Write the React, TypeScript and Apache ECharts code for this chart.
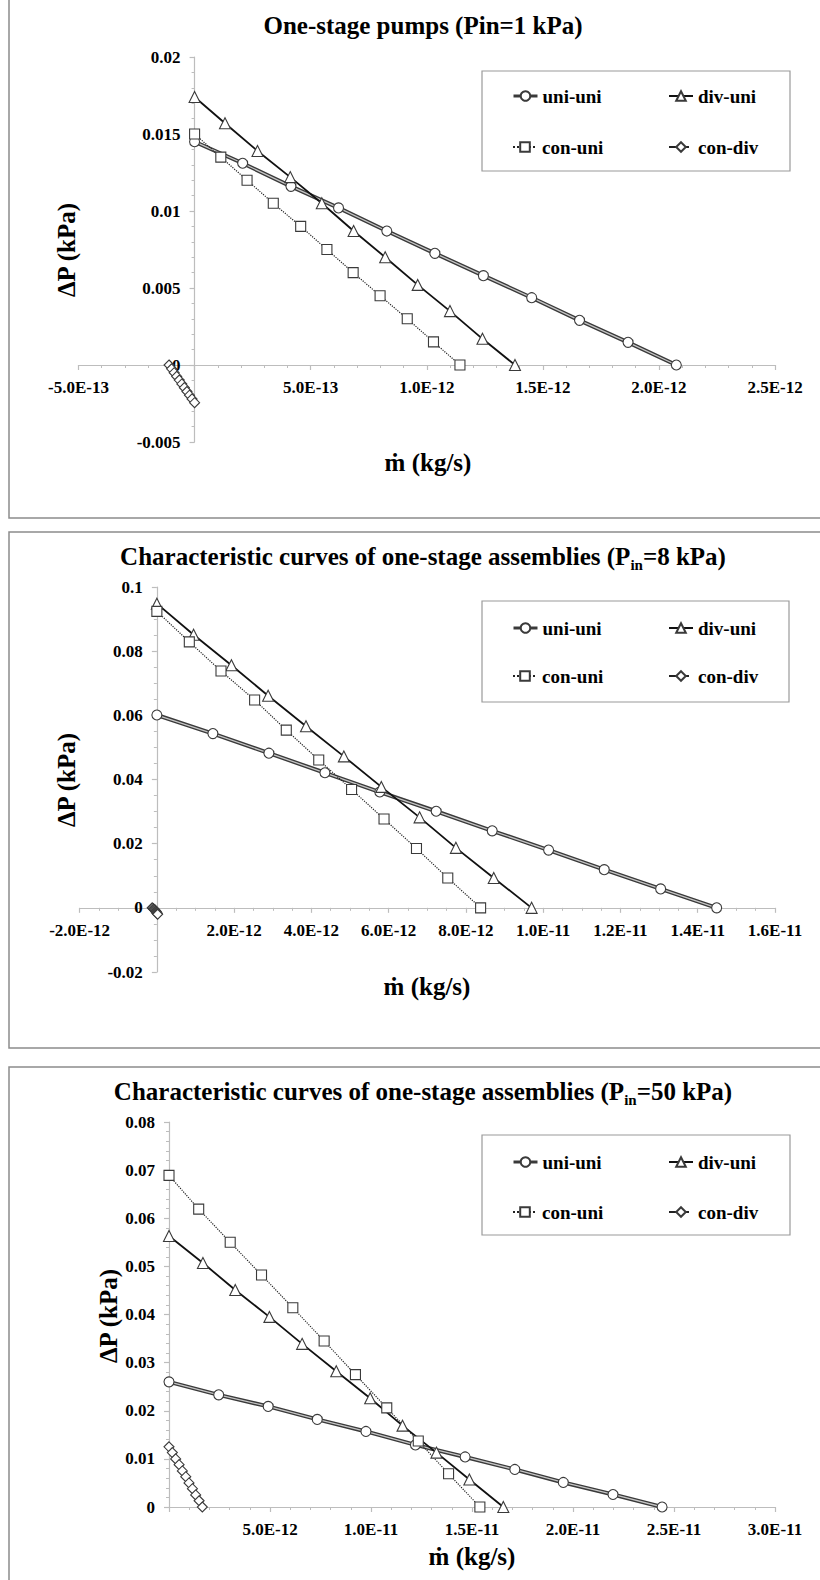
import React, { useEffect, useRef } from 'react';
import * as echarts from 'echarts';

// ---------- Panel 1 : One-stage pumps (Pin = 1 kPa) ----------
const p1UniUniX = [0, 2.07e-13, 4.15e-13, 6.2e-13, 8.28e-13, 1.035e-12, 1.244e-12, 1.452e-12, 1.658e-12, 1.867e-12, 2.075e-12];
const p1UniUniY = [0.0145, 0.0131, 0.0116, 0.0102, 0.0087, 0.00725, 0.0058, 0.00437, 0.0029, 0.00147, 0];
const p1DivUniX = [0, 1.31e-13, 2.71e-13, 4.12e-13, 5.48e-13, 6.85e-13, 8.21e-13, 9.61e-13, 1.1e-12, 1.24e-12, 1.38e-12];
const p1DivUniY = [0.0174, 0.0157, 0.0139, 0.0122, 0.0105, 0.0087, 0.007, 0.0052, 0.0035, 0.0017, 0];
const p1ConUniX = [0, 1.13e-13, 2.26e-13, 3.39e-13, 4.57e-13, 5.7e-13, 6.83e-13, 7.99e-13, 9.16e-13, 1.029e-12, 1.143e-12];
const p1ConUniY = [0.015, 0.0135, 0.012, 0.0105, 0.009, 0.0075, 0.006, 0.0045, 0.003, 0.0015, 0];
const p1ConDivX = [-1.1e-13, -0.99e-13, -0.88e-13, -0.77e-13, -0.66e-13, -0.55e-13, -0.44e-13, -0.33e-13, -0.22e-13, -0.11e-13, 0];
const p1ConDivY = [0, -0.00025, -0.0005, -0.00074, -0.00098, -0.00123, -0.00147, -0.00172, -0.00196, -0.0022, -0.00245];

// ---------- Panel 2 : Pin = 8 kPa ----------
const p2UniUniX = [0, 1.45e-12, 2.9e-12, 4.35e-12, 5.77e-12, 7.23e-12, 8.68e-12, 1.014e-11, 1.158e-11, 1.304e-11, 1.449e-11];
const p2UniUniY = [0.0601, 0.0543, 0.0482, 0.0421, 0.0361, 0.0301, 0.024, 0.018, 0.0119, 0.0059, 0];
const p2DivUniX = [0, 0.95e-12, 1.93e-12, 2.88e-12, 3.86e-12, 4.84e-12, 5.81e-12, 6.8e-12, 7.74e-12, 8.72e-12, 9.7e-12];
const p2DivUniY = [0.0948, 0.0851, 0.0756, 0.0661, 0.0566, 0.0472, 0.0377, 0.0282, 0.0187, 0.0093, 0];
const p2ConUniX = [0, 0.84e-12, 1.66e-12, 2.53e-12, 3.35e-12, 4.19e-12, 5.04e-12, 5.88e-12, 6.72e-12, 7.53e-12, 8.38e-12];
const p2ConUniY = [0.0924, 0.0829, 0.0738, 0.0648, 0.0554, 0.0461, 0.0369, 0.0277, 0.0185, 0.0093, 0];
const p2ConDivX = [-0.12e-12, -0.1e-12, -0.08e-12, -0.06e-12, -0.045e-12, -0.03e-12, -0.02e-12, -0.01e-12, 0, 0.01e-12, 0.02e-12];
const p2ConDivY = [0, -0.0002, -0.0004, -0.0006, -0.0008, -0.001, -0.0012, -0.0014, -0.0016, -0.0018, -0.002];

// ---------- Panel 3 : Pin = 50 kPa ----------
const p3UniUniX = [0, 2.46e-12, 4.91e-12, 7.34e-12, 9.75e-12, 1.22e-11, 1.466e-11, 1.712e-11, 1.952e-11, 2.198e-11, 2.441e-11];
const p3UniUniY = [0.026, 0.0233, 0.0209, 0.0182, 0.0157, 0.0129, 0.0104, 0.0078, 0.0051, 0.0026, 0];
const p3DivUniX = [0, 1.68e-12, 3.28e-12, 4.97e-12, 6.59e-12, 8.28e-12, 9.96e-12, 1.156e-11, 1.324e-11, 1.487e-11, 1.655e-11];
const p3DivUniY = [0.0563, 0.0507, 0.0451, 0.0395, 0.0339, 0.0282, 0.0226, 0.0169, 0.0113, 0.0057, 0];
const p3ConUniX = [0, 1.47e-12, 3.03e-12, 4.58e-12, 6.13e-12, 7.68e-12, 9.23e-12, 1.078e-11, 1.234e-11, 1.384e-11, 1.539e-11];
const p3ConUniY = [0.0689, 0.0619, 0.055, 0.0482, 0.0414, 0.0345, 0.0275, 0.0206, 0.0137, 0.0069, 0];
const p3ConDivX = [0, 0.165e-12, 0.33e-12, 0.5e-12, 0.66e-12, 0.83e-12, 0.99e-12, 1.16e-12, 1.32e-12, 1.49e-12, 1.65e-12];
const p3ConDivY = [0.0125, 0.0113, 0.01, 0.0088, 0.0075, 0.0063, 0.005, 0.0038, 0.0025, 0.0013, 0];

// ---------- Texts and axis ranges ----------
const seriesNames = ['uni-uni', 'div-uni', 'con-uni', 'con-div'];
const panelTitles = [
  'One-stage pumps (Pin=1 kPa)',
  'Characteristic curves of one-stage assemblies (P{sub|in}=8 kPa)',
  'Characteristic curves of one-stage assemblies (P{sub|in}=50 kPa)',
];
const xAxisTitle = 'ṁ (kg/s)';
const yAxisTitle = 'ΔP (kPa)';
const xRanges = [
  { min: -5e-13, max: 2.5e-12, interval: 5e-13, minor: 5 },
  { min: -2e-12, max: 1.6e-11, interval: 2e-12, minor: 4 },
  { min: 0, max: 3e-11, interval: 5e-12, minor: 5 },
];
const yRanges = [
  { min: -0.005, max: 0.02, interval: 0.005, minor: 5 },
  { min: -0.02, max: 0.1, interval: 0.02, minor: 4 },
  { min: 0, max: 0.08, interval: 0.01, minor: 5 },
];

const panels = [
  { x: [p1UniUniX, p1DivUniX, p1ConUniX, p1ConDivX], y: [p1UniUniY, p1DivUniY, p1ConUniY, p1ConDivY] },
  { x: [p2UniUniX, p2DivUniX, p2ConUniX, p2ConDivX], y: [p2UniUniY, p2DivUniY, p2ConUniY, p2ConDivY] },
  { x: [p3UniUniX, p3DivUniX, p3ConUniX, p3ConDivX], y: [p3UniUniY, p3DivUniY, p3ConUniY, p3ConDivY] },
];

const FONT = 'Liberation Serif, serif';

// layout (pixels)
const grids = [
  { left: 78.5, top: 57, width: 696.5, height: 385 },
  { left: 79.6, top: 587, width: 695.4, height: 385 },
  { left: 169, top: 1122, width: 606, height: 385 },
];
const titlePos = [[423, 25], [423, 556], [423, 1091]];
const xTitlePos = [[428, 462], [427, 986], [472, 1556]];
const yTitlePos = [[66, 250], [66, 780], [108, 1316]];
const legendBoxes = [
  { x: 482, y: 71, w: 308, h: 100 },
  { x: 482, y: 601, w: 307, h: 101 },
  { x: 482, y: 1135, w: 308, h: 100 },
];
const legendRows = [[96, 147], [628, 676], [1162, 1212]];
const legendCols = [512, 668];
const panelBoxes = [
  { x: 9, y: -10, w: 830, h: 528 },
  { x: 9, y: 532, w: 830, h: 516 },
  { x: 9, y: 1067, w: 830, h: 600 },
];

const AXIS_GRAY = '#bdbdbd';

function fmtX(v: number) {
  if (Math.abs(v) < 1e-20) return '';
  return v.toExponential(1).toUpperCase();
}
function fmtY(v: number) {
  if (Math.abs(v) < 1e-12) return '0';
  return String(parseFloat(v.toPrecision(6)));
}

const markerStyle = { color: '#ffffff', borderColor: '#3a3a3a', borderWidth: 1.1 };

function buildSeries() {
  const out: any[] = [];
  panels.forEach((p, g) => {
    const pairs = (i: number) => p.x[i].map((xv, k) => [xv, p.y[i][k]]);
    out.push({
      type: 'line', name: seriesNames[0], xAxisIndex: g, yAxisIndex: g, data: pairs(0), z: 3,
      symbol: 'circle', symbolSize: 10, itemStyle: markerStyle,
      lineStyle: { color: '#c4c4c4', width: 1.3 }, silent: true, animation: false,
    });
    out.push({
      type: 'line', name: seriesNames[0], xAxisIndex: g, yAxisIndex: g, data: pairs(0), z: 2,
      symbol: 'none', lineStyle: { color: '#3a3a3a', width: 4 }, silent: true, animation: false,
    });
    out.push({
      type: 'line', name: seriesNames[1], xAxisIndex: g, yAxisIndex: g, data: pairs(1), z: 3,
      symbol: 'triangle', symbolSize: 11, itemStyle: markerStyle,
      lineStyle: { color: '#111', width: 1.8 }, silent: true, animation: false,
    });
    out.push({
      type: 'line', name: seriesNames[2], xAxisIndex: g, yAxisIndex: g, data: pairs(2), z: 3,
      symbol: 'rect', symbolSize: 10, itemStyle: markerStyle,
      lineStyle: { color: '#222', width: 1.2, type: 'dotted' }, silent: true, animation: false,
    });
    out.push({
      type: 'line', name: seriesNames[3], xAxisIndex: g, yAxisIndex: g, data: pairs(3), z: 3,
      symbol: 'diamond', symbolSize: 10, itemStyle: markerStyle,
      lineStyle: { color: '#222', width: 1.2, type: 'dashed' }, silent: true, animation: false,
    });
  });
  return out;
}

function buildLegends() {
  const out: any[] = [];
  legendRows.forEach((rows) => {
    seriesNames.forEach((name, i) => {
      const row = Math.floor(i / 2);
      const col = i % 2;
      const lg: any = {
        data: [name],
        left: legendCols[col],
        top: rows[row] - 10,
        padding: 0,
        itemWidth: 24,
        itemHeight: 12,
        itemGap: 0,
        selectedMode: false,
        textStyle: { fontFamily: FONT, fontWeight: 'bold', fontSize: 19, color: '#000', lineHeight: 20 },
      };
      if (name === 'uni-uni') lg.lineStyle = { color: '#3a3a3a', width: 3 };
      out.push(lg);
    });
  });
  return out;
}

function buildGraphics() {
  const els: any[] = [];
  panelBoxes.forEach((b) => {
    els.push({
      type: 'rect', silent: true, z: 0,
      shape: { x: b.x, y: b.y, width: b.w, height: b.h },
      style: { fill: 'none', stroke: '#8c8c8c', lineWidth: 1.5 },
    });
  });
  legendBoxes.forEach((b) => {
    els.push({
      type: 'rect', silent: true, z: 0,
      shape: { x: b.x, y: b.y, width: b.w, height: b.h },
      style: { fill: '#fff', stroke: '#9a9a9a', lineWidth: 1.2 },
    });
  });
  panelTitles.forEach((t, i) => {
    els.push({
      type: 'text', silent: true, x: titlePos[i][0], y: titlePos[i][1],
      style: {
        text: t, fill: '#000', fontFamily: FONT, fontWeight: 'bold', fontSize: 25, lineHeight: 32,
        textAlign: 'center', textVerticalAlign: 'middle',
        rich: {
          sub: { fontFamily: FONT, fontWeight: 'bold', fontSize: 15, lineHeight: 14, verticalAlign: 'bottom', fill: '#000' },
        },
      },
    });
  });
  xTitlePos.forEach((p) => {
    els.push({
      type: 'text', silent: true, x: p[0], y: p[1],
      style: {
        text: xAxisTitle, fill: '#000', fontFamily: FONT, fontWeight: 'bold', fontSize: 25,
        textAlign: 'center', textVerticalAlign: 'middle',
      },
    });
  });
  yTitlePos.forEach((p) => {
    els.push({
      type: 'text', silent: true, x: p[0], y: p[1], rotation: Math.PI / 2,
      style: {
        text: yAxisTitle, fill: '#000', fontFamily: FONT, fontWeight: 'bold', fontSize: 25,
        textAlign: 'center', textVerticalAlign: 'middle',
      },
    });
  });
  return els;
}

function buildOption() {
  const labelStyle = { fontFamily: FONT, fontWeight: 'bold', fontSize: 17, color: '#000' };
  return {
    animation: false,
    backgroundColor: '#ffffff',
    textStyle: { fontFamily: FONT },
    grid: grids.map((g) => ({ ...g, containLabel: false, outerBoundsMode: 'none' })),
    xAxis: xRanges.map((r, g) => {
      // the axis sits on the value 0 of the y axis: offset it from the grid's bottom edge
      const yr = yRanges[g];
      const zeroFromBottom = ((0 - yr.min) / (yr.max - yr.min)) * grids[g].height;
      return {
        type: 'value', gridIndex: g, min: r.min, max: r.max, interval: r.interval,
        position: 'bottom', offset: -zeroFromBottom,
        axisLine: { show: true, onZero: false, lineStyle: { color: AXIS_GRAY, width: 1.2 } },
        axisTick: { show: true, length: 5, lineStyle: { color: AXIS_GRAY, width: 1.2 } },
        minorTick: { show: true, splitNumber: r.minor, length: 3, lineStyle: { color: AXIS_GRAY } },
        splitLine: { show: false },
        minorSplitLine: { show: false },
        axisLabel: { ...labelStyle, margin: 14, formatter: fmtX },
      };
    }),
    yAxis: yRanges.map((r, g) => {
      const xr = xRanges[g];
      const zeroFromLeft = ((0 - xr.min) / (xr.max - xr.min)) * grids[g].width;
      return {
        type: 'value', gridIndex: g, min: r.min, max: r.max, interval: r.interval,
        position: 'left', offset: -zeroFromLeft,
        axisLine: { show: true, onZero: false, lineStyle: { color: AXIS_GRAY, width: 1.2 } },
        axisTick: { show: true, length: 5, lineStyle: { color: AXIS_GRAY, width: 1.2 } },
        minorTick: { show: true, splitNumber: r.minor, length: 3, lineStyle: { color: AXIS_GRAY } },
        splitLine: { show: false },
        minorSplitLine: { show: false },
        axisLabel: { ...labelStyle, margin: 14, formatter: fmtY },
      };
    }),
    legend: buildLegends(),
    graphic: { elements: buildGraphics() },
    series: buildSeries(),
  };
}

export default function App() {
  const ref = useRef<HTMLDivElement>(null);
  useEffect(() => {
    if (!ref.current) return;
    const chart = echarts.init(ref.current, null, { renderer: 'svg' });
    chart.setOption(buildOption() as any);
    return () => {
      chart.dispose();
    };
  }, []);
  return (
    <>
      <style>{"#chart-root svg text { font-family: 'Liberation Serif', serif !important; }"}</style>
      <div
        id="chart-root"
        ref={ref}
        style={{ position: 'absolute', left: 0, top: 0, width: 820, height: 1580, background: '#fff' }}
      />
    </>
  );
}
